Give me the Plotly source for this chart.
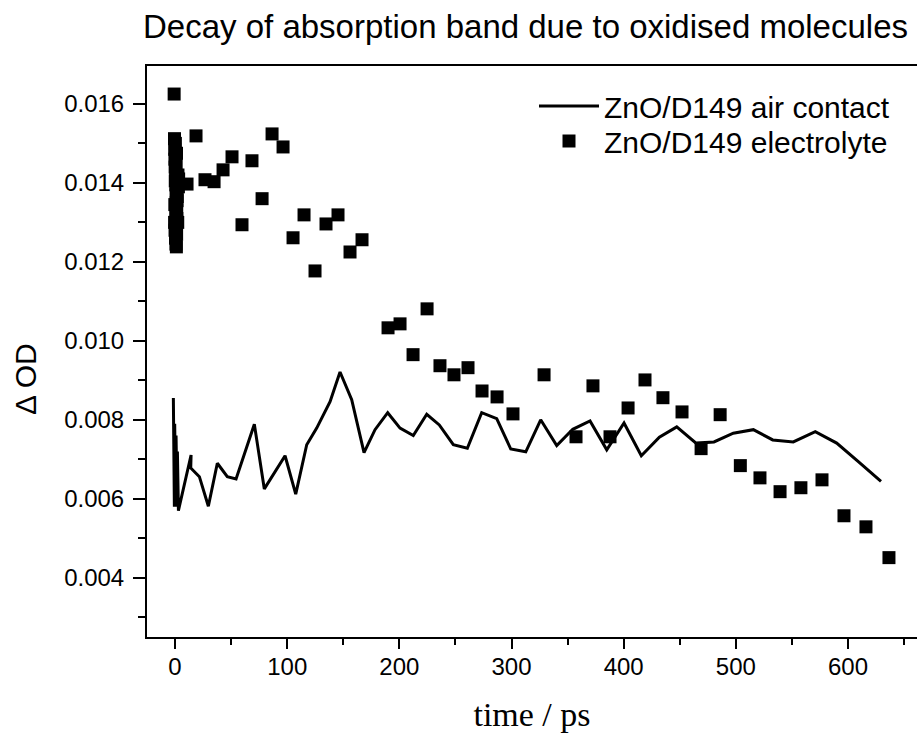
import plotly.graph_objects as go

# ZnO/D149 air contact (line)
t_air = [-1.5, -1.2, -0.9, -0.6, -0.3, 0.0, 0.3, 0.6, 0.9, 1.2, 1.5, 1.8, 2.1, 2.4, 2.7, 3.0,
         14.3, 14.0, 21.7, 29.7, 37.7, 46.6, 54.4, 70.7, 79.6, 98.1, 107.6, 117.4, 126.3,
         138.2, 147.1, 157.5, 168.5, 178.3, 189.6, 200.6, 212.4, 224.4, 235.6, 248.1,
         260.6, 273.4, 286.8, 299.3, 312.7, 326.0, 340.3, 354.6, 370.0, 384.9, 400.3,
         415.7, 431.8, 447.3, 464.5, 480.5, 497.7, 515.6, 532.9, 551.2, 570.8, 589.9,
         609.2, 629.4]
od_air = [0.00855, 0.0059, 0.0081, 0.0058, 0.0079, 0.0060, 0.0077, 0.0058, 0.0076, 0.0059,
          0.0075, 0.0058, 0.0072, 0.0058, 0.0068, 0.0057,
          0.00711, 0.00678, 0.00656, 0.00581, 0.00690, 0.00656, 0.00650, 0.00789, 0.00625,
          0.00709, 0.00612, 0.00737, 0.00779, 0.00846, 0.00921, 0.00851, 0.00717, 0.00775,
          0.00818, 0.00779, 0.00760, 0.00814, 0.00787, 0.00737, 0.00728, 0.00818, 0.00803,
          0.00726, 0.00719, 0.00800, 0.00735, 0.00776, 0.00797, 0.00724, 0.00792, 0.00709,
          0.00756, 0.00782, 0.00741, 0.00744, 0.00766, 0.00775, 0.00749, 0.00744, 0.00770,
          0.00741, 0.00694, 0.00644]

# ZnO/D149 electrolyte (squares)
t_el = [-0.8, -0.5, -0.3, -0.1, 0.1, 0.3, 0.5, 0.7, 0.9, 1.1, 1.3, 1.5, -0.4, 0.0, 0.4,
        0.8, 1.2, 1.6, 2.0, 2.6, 3.0, -0.2, 0.2, 0.6, 1.0, 1.4, 1.8, 2.4, 3.2,
        10.7, 18.7, 26.7, 34.8, 42.8, 50.8, 59.7, 68.6, 77.6, 86.5, 96.3, 105.2, 115.0,
        124.8, 134.6, 145.3, 156.0, 166.7, 189.9, 200.6, 212.2, 224.7, 236.2, 248.7,
        261.2, 273.7, 287.1, 301.3, 329.0, 357.5, 372.6, 387.8, 403.9, 419.0, 435.0,
        452.0, 469.0, 486.0, 504.0, 521.5, 539.4, 558.0, 576.8, 596.4, 616.0, 636.5]
od_el = [0.01625, 0.01512, 0.01485, 0.01460, 0.01440, 0.01500, 0.01420, 0.01395, 0.01370,
         0.01350, 0.01475, 0.01330, 0.01300, 0.01280, 0.01260, 0.01245, 0.01238, 0.01310,
         0.01365, 0.01420, 0.01390, 0.01345, 0.01405, 0.01325, 0.01450, 0.01270, 0.01355,
         0.01300, 0.01410,
         0.01397, 0.01519, 0.01408, 0.01403, 0.01433, 0.01466, 0.01294, 0.01456, 0.01360,
         0.01524, 0.01491, 0.01261, 0.01319, 0.01177, 0.01296, 0.01319, 0.01225, 0.01256,
         0.01033, 0.01043, 0.00965, 0.01081, 0.00937, 0.00914, 0.00932, 0.00873, 0.00858,
         0.00815, 0.00914, 0.00757, 0.00886, 0.00757, 0.00830, 0.00901, 0.00856, 0.00820,
         0.00727, 0.00813, 0.00684, 0.00653, 0.00618, 0.00628, 0.00648, 0.00557, 0.00529,
         0.00451]

SANS = "Liberation Sans, Arial, sans-serif"
SERIF = "Liberation Serif, Times New Roman, serif"

fig = go.Figure()
fig.add_trace(go.Scatter(x=t_air, y=od_air, mode="lines", name="ZnO/D149 air contact",
                         line=dict(color="black", width=3), legend="legend"))
fig.add_trace(go.Scatter(x=t_el, y=od_el, mode="markers", name="ZnO/D149 electrolyte",
                         marker=dict(symbol="square", size=13, color="black",
                                     line=dict(width=0)), legend="legend2"))

axis_common = dict(showline=True, linecolor="black", linewidth=2,
                   ticks="outside", tickwidth=2, tickcolor="black",
                   showgrid=False, zeroline=False,
                   tickfont=dict(family=SANS, size=24, color="black"))

PW = 917 - 147
PH = 637 - 66
legend_common = dict(xanchor="left", yanchor="top",
                     font=dict(family=SANS, size=30, color="black"),
                     bgcolor="rgba(0,0,0,0)", borderwidth=0, itemwidth=60)

fig.update_layout(
    width=917, height=733,
    margin=dict(l=147, r=0, t=66, b=96),
    paper_bgcolor="white", plot_bgcolor="white",
    title=dict(text="Decay of absorption band due to oxidised molecules",
               font=dict(family=SANS, size=33, color="black"),
               x=143 / 917, xanchor="left", xref="container",
               y=1 - 26 / 733, yanchor="middle", yref="container"),
    xaxis=dict(range=[-25, 661.5], dtick=100, tick0=0, mirror=True, ticklen=10,
               ticklabelstandoff=-3,
               minor=dict(dtick=50, ticklen=6, tickwidth=2, tickcolor="black", ticks="outside"),
               title=dict(text="time / ps", font=dict(family=SERIF, size=34, color="black"),
                          standoff=23),
               **axis_common),
    yaxis=dict(range=[0.0025, 0.01696], dtick=0.002, tick0=0, tickformat=".3f",
               mirror=False, ticklen=12,
               minor=dict(dtick=0.001, ticklen=7, tickwidth=2, tickcolor="black", ticks="outside"),
               ticklabelstandoff=4,
               **axis_common),
    legend=dict(x=(534 - 147) / PW, y=1 - (80 - 66) / PH, **legend_common),
    legend2=dict(x=(534 - 147) / PW, y=1 - (115 - 66) / PH, **legend_common),
    showlegend=True,
    annotations=[dict(text="Δ OD", textangle=-90, xref="paper", yref="paper",
                      x=(25 - 147) / PW, y=1 - (379 - 66) / PH, xanchor="center",
                      yanchor="middle", showarrow=False,
                      font=dict(family=SANS, size=30, color="black"))],
)

fig.write_html("out.html")
